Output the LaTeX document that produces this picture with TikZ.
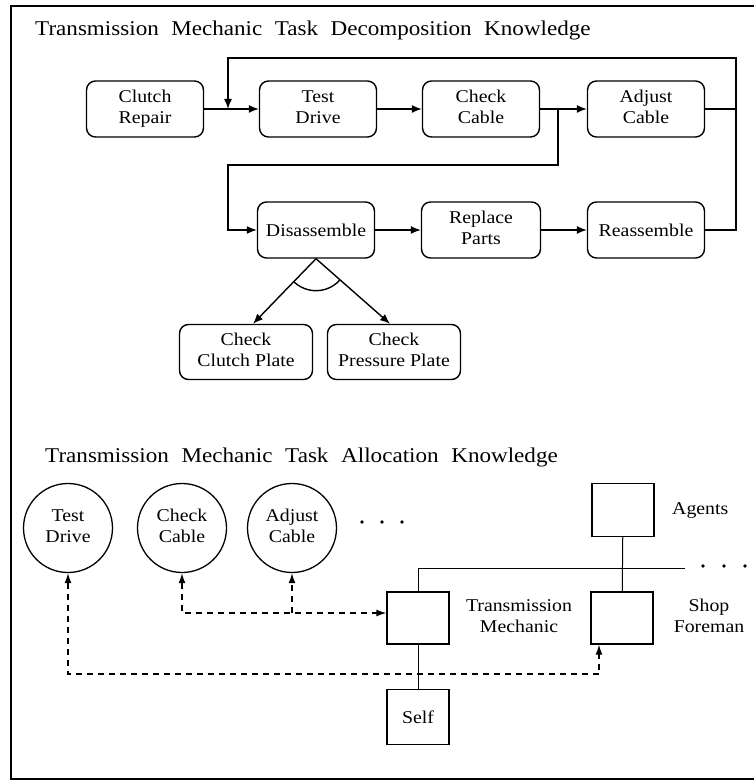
\documentclass[tikz,border=0pt]{standalone}
\usepackage{graphicx}
\usepackage{fontspec}
\setmainfont{Liberation Serif}
\usetikzlibrary{arrows.meta,calc}
\newcommand{\wt}[1]{\scalebox{1.1}[1]{#1}}
\newcommand{\two}[2]{\wt{\begin{tabular}{@{}c@{}}#1\\#2\end{tabular}}}
\newcommand{\ttl}[2]{\wt{\makebox[#1][s]{#2}}}
\tikzset{dtip/.tip={Latex[length=10pt,width=7pt]}}
\begin{document}
\begin{tikzpicture}[x=1pt,y=-1pt,
  every node/.style={font=\fontsize{18}{21}\selectfont, inner sep=0pt},
  task/.style={draw, rounded corners=9pt, minimum width=117pt, minimum height=56pt, line width=1.4pt},
  subtask/.style={draw, rounded corners=9pt, minimum width=133pt, minimum height=55pt, line width=1.4pt},
  circ/.style={draw, circle, minimum size=89pt, line width=1.3pt},
  sq/.style={draw, minimum width=62pt, minimum height=53pt, line width=1.3pt},
  conn/.style={line width=1.4pt},
  arr/.style={line width=1.4pt, -{Latex[length=10pt,width=8pt]}},
  thinl/.style={line width=1pt},
  dsh/.style={line width=1.3pt, dash pattern=on 6pt off 5pt},
  ttlfont/.style={font=\fontsize{21}{24}\selectfont, anchor=base west}
]
\useasboundingbox (0,0) rectangle (754,783);
% frame
\draw[line width=1.4pt] (754,6) -- (11,6) -- (11,779) -- (754,779);

% ---------- Decomposition ----------
\node[ttlfont] (t1) at (35,36) {\ttl{505pt}{Transmission Mechanic Task Decomposition Knowledge}};

\node[task] (cr) at (145,109) {\two{Clutch}{Repair}};
\node[task] (td) at (318,109) {\two{Test}{Drive}};
\node[task] (cc) at (481,109) {\two{Check}{Cable}};
\node[task] (ac) at (646,109) {\two{Adjust}{Cable}};
\node[task] (dis) at (316,230) {\wt{Disassemble}};
\node[task, minimum width=119pt] (rp) at (481,230) {\two{Replace}{Parts}};
\node[task] (ra) at (646,230) {\wt{Reassemble}};
\node[subtask] (ccp) at (246,352) {\two{Check}{Clutch Plate}};
\node[subtask] (cpp) at (394,352) {\two{Check}{Pressure Plate}};

\coordinate (fbR) at (736,58);
\coordinate (fbL) at (228,58);
\coordinate (fbJ) at (228,109);
\coordinate (br) at (558,109);
\coordinate (bl) at (228,165);

\draw[arr] (cr) -- (td);
\draw[arr] (td) -- (cc);
\draw[arr] (cc) -- (ac);
\draw[conn] (ac.east) -- (ac.east -| fbR);
\draw[arr] (ra.east) -| (fbR) -- (fbL) -- (fbJ);
\draw[arr] (br) |- (bl) |- (dis.west);
\draw[arr] (dis) -- (rp);
\draw[arr] (rp) -- (ra);
\draw[arr] (dis.south) -- ([xshift=7pt]ccp.north);
\draw[arr] (dis.south) -- ([xshift=-4pt]cpp.north);
\draw[conn] (dis.south) ++(133:32) arc[start angle=133, end angle=42, radius=32];

% ---------- Allocation ----------
\node[ttlfont] (t2) at (45,462) {\ttl{466pt}{Transmission Mechanic Task Allocation Knowledge}};

\node[circ] (ctd) at (68,528) {\two{Test}{Drive}};
\node[circ] (ccc) at (182,528) {\two{Check}{Cable}};
\node[circ] (cac) at (292,528) {\two{Adjust}{Cable}};
\fill (362,522) circle (1.9pt) (382,522) circle (1.9pt) (402,522) circle (1.9pt);

\node[sq] (ag) at (623,510) {};
\node[sq, minimum height=52pt] (tm) at (418,618) {};
\node[sq, minimum height=52pt] (sf) at (622,618) {};
\node[sq, minimum height=55pt] (self) at (418,717) {\wt{Self}};

\node[anchor=west] (agt) at (672,510) {\wt{Agents}};
\node (tmt) at (519,618) {\two{Transmission}{Mechanic}};
\node (sft) at (709,618) {\two{Shop}{Foreman}};

\coordinate (hr) at (685,568);
\draw[thinl] (tm.north) |- (hr);
\fill (703,566) circle (1.9pt) (724,566) circle (1.9pt) (745,566) circle (1.9pt);
\draw[thinl] (ag) -- (sf);
\draw[thinl] (tm) -- (self);

\coordinate (tmw) at ([yshift=5pt]tm.west);
\coordinate (j2) at (cac.south |- tmw);
\coordinate (dr) at (599,674);
\draw[dsh, dtip-dtip] (ccc.south) |- (tmw);
\draw[dsh, -dtip] (j2) -- (cac.south);
\draw[dsh, dtip-dtip] (ctd.south) |- (dr) -- (dr |- sf.south);
\end{tikzpicture}
\end{document}
